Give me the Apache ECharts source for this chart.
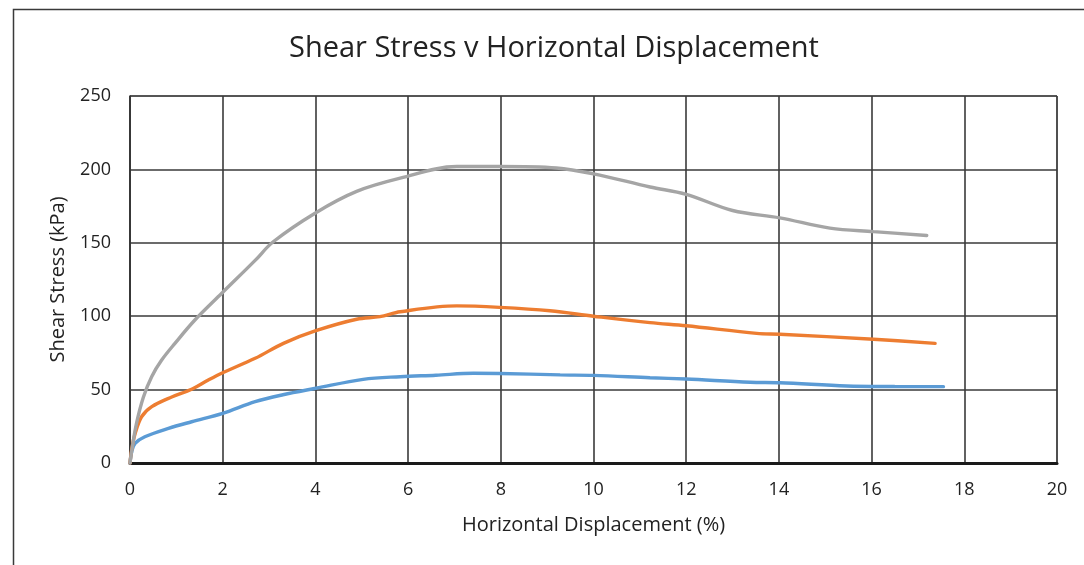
<!DOCTYPE html>
<html>
<head>
<meta charset="utf-8">
<style>
  html, body { margin: 0; padding: 0; background: #fff; }
  #chart { width: 1084px; height: 565px; }
</style>
<script src="https://cdn.jsdelivr.net/npm/echarts@6/dist/echarts.min.js"></script>
</head>
<body>
<div id="chart"></div>
<script>
// Horizontal displacement (%) and shear stress (kPa) for three shear box tests
const lowX  = [0, 0.04, 0.11, 0.32, 0.83, 1.33, 2.0, 2.7, 3.3, 4.01, 5.03, 5.83, 6.6, 7.41, 7.98, 9.28, 10.0, 11.22, 12.0, 13.38, 14.02, 15.46, 16.5, 17.55];
const lowY  = [0, 8, 13.4, 17.9, 23.6, 28.1, 33.8, 41.8, 46.5, 50.9, 57, 58.8, 59.8, 61.1, 61, 60, 59.7, 58.1, 57.2, 55, 54.7, 52.5, 52.1, 52];

const midX  = [0, 0.04, 0.11, 0.25, 0.47, 0.9, 1.33, 1.69, 2.0, 2.7, 3.31, 4.01, 4.89, 5.39, 5.83, 7.05, 7.98, 9.06, 10.0, 11.22, 12.0, 13.52, 14.02, 16.04, 17.37];
const midY  = [0, 10, 20, 31.5, 38.4, 45, 50.2, 56.5, 61.5, 71.3, 81.5, 90.1, 97.9, 99.7, 103, 107, 106, 103.7, 100, 95.6, 93.5, 88.3, 87.7, 84.3, 81.5];

const highX = [0, 0.04, 0.14, 0.29, 0.47, 0.68, 0.97, 1.4, 1.98, 2.7, 3.09, 4.01, 4.89, 5.83, 7.05, 7.98, 9.2, 10.0, 11.22, 12.0, 13.0, 14.02, 15.1, 16.04, 17.19];
const highY = [0, 8.9, 27, 45, 59, 70, 81.5, 97.4, 115.6, 138, 150.7, 170.5, 185, 194, 202, 202, 201, 197, 188, 183, 172, 167, 160, 157.6, 155];

const xTicks = { min: 0, max: 20, step: 2 };
const yTicks = { min: 0, max: 250, step: 50 };

const pairs = (xs, ys) => xs.map((x, i) => [x, ys[i]]);

const chart = echarts.init(document.getElementById('chart'), null, { renderer: 'canvas' });
const font = "'Open Sans', 'Noto Sans', sans-serif";

chart.setOption({
  animation: false,
  backgroundColor: '#fff',
  graphic: [{
    type: 'rect',
    left: 11, top: 7,
    shape: { width: 1200, height: 700 },
    style: { fill: 'none', stroke: '#3a3a3a', lineWidth: 1.5 },
    silent: true
  }],
  title: {
    text: 'Shear Stress v Horizontal Displacement',
    left: 289,
    top: 34,
    padding: 0,
    textStyle: { fontFamily: font, fontSize: 29, fontWeight: 'normal', color: '#222' }
  },
  grid: { left: 130, top: 96, width: 927, height: 367, containLabel: false, show: true, borderColor: '#555', borderWidth: 1 },
  xAxis: {
    type: 'value',
    min: xTicks.min, max: xTicks.max, interval: xTicks.step,
    name: 'Horizontal Displacement (%)',
    nameLocation: 'middle', nameGap: 52,
    nameTextStyle: { fontFamily: font, fontSize: 20, color: '#222' },
    axisLine: { show: true, onZero: false, lineStyle: { color: '#1a1a1a', width: 3 } },
    axisTick: { show: false },
    axisLabel: { fontFamily: font, fontSize: 18, color: '#222', margin: 18 },
    splitLine: { show: true, lineStyle: { color: '#3a3a3a', width: 1.6 } }
  },
  yAxis: {
    type: 'value',
    min: yTicks.min, max: yTicks.max, interval: yTicks.step,
    name: 'Shear Stress (kPa)',
    nameLocation: 'middle', nameGap: 62, nameRotate: 90,
    nameTextStyle: { fontFamily: font, fontSize: 20, color: '#222' },
    axisLine: { show: true, lineStyle: { color: '#333', width: 1.6 } },
    axisTick: { show: false },
    axisLabel: { fontFamily: font, fontSize: 18, color: '#222', margin: 19 },
    splitLine: { show: true, lineStyle: { color: '#3a3a3a', width: 1.6 } }
  },
  series: [
    { name: 'Low', type: 'line', data: pairs(lowX, lowY), smooth: 0.35, showSymbol: false,
      lineStyle: { color: '#5B9BD5', width: 3.4, cap: 'round' }, z: 3 },
    { name: 'Medium', type: 'line', data: pairs(midX, midY), smooth: 0.35, showSymbol: false,
      lineStyle: { color: '#ED7D31', width: 3.4, cap: 'round' }, z: 3 },
    { name: 'High', type: 'line', data: pairs(highX, highY), smooth: 0.35, showSymbol: false,
      lineStyle: { color: '#A5A5A5', width: 3.4, cap: 'round' }, z: 3 }
  ]
});
</script>
</body>
</html>
